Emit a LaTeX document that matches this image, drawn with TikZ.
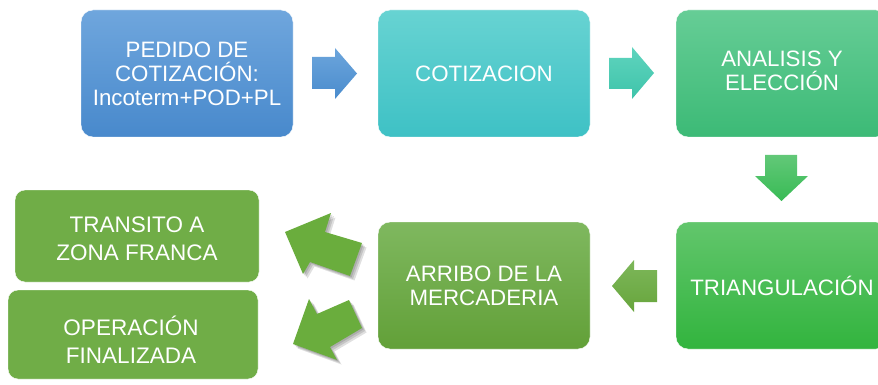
\documentclass[tikz,border=0pt]{standalone}
\usepackage{fontspec}
\setmainfont{Liberation Sans}
\definecolor{bAtop}{RGB}{111,166,221}\definecolor{bAbot}{RGB}{72,137,204}
\definecolor{bBtop}{RGB}{103,211,210}\definecolor{bBbot}{RGB}{62,193,197}
\definecolor{bCtop}{RGB}{102,205,150}\definecolor{bCbot}{RGB}{60,186,118}
\definecolor{bDtop}{RGB}{98,198,108}\definecolor{bDbot}{RGB}{50,180,62}
\definecolor{bEtop}{RGB}{127,184,95}\definecolor{bEbot}{RGB}{98,160,56}
\definecolor{gsix}{RGB}{112,173,71}
\definecolor{aAtop}{RGB}{108,165,220}\definecolor{aAbot}{RGB}{74,140,205}
\definecolor{aBtop}{RGB}{95,212,190}\definecolor{aBbot}{RGB}{63,196,170}
\definecolor{aCtop}{RGB}{98,200,120}\definecolor{aCbot}{RGB}{56,187,85}
\definecolor{aDtop}{RGB}{125,183,90}\definecolor{aDbot}{RGB}{103,165,60}
\definecolor{curv}{RGB}{106,173,61}
\begin{document}
\begin{tikzpicture}[x=1pt,y=-1pt,
  box/.style={rounded corners=12pt, text=white, align=center,
    font=\fontsize{22.3}{24}\selectfont, inner sep=0pt, draw=white, line width=0.4pt},
  bigbox/.style={box, minimum width=212pt, minimum height=127pt},
  smallbox/.style={box, fill=gsix, rounded corners=10pt},
  smalltext/.style={text=white, align=center, inner sep=0pt,
    font=\fontsize{22.5}{28}\selectfont},
  shad/.style={fill=black, opacity=0.12},
]
\clip (0,0) rectangle (878,385);
\fill[white] (0,0) rectangle (878,385);

% boxes
\node[bigbox, top color=bAtop, bottom color=bAbot] (pedido) at (187,73.5)
  {PEDIDO DE\\COTIZACIÓN:\\Incoterm+POD+PL};
\node[bigbox, top color=bBtop, bottom color=bBbot] (cotiz) at (484,73.5) {COTIZACION};
\node[bigbox, top color=bCtop, bottom color=bCbot] (analisis) at (782,73.5)
  {ANALISIS Y\\ELECCIÓN\vphantom{g}};
\node[bigbox, top color=bDtop, bottom color=bDbot] (triang) at (782,285.5) {TRIANGULACIÓN};
\node[bigbox, top color=bEtop, bottom color=bEbot] (arribo) at (484,285.5)
  {ARRIBO DE LA\\MERCADERIA};
\node[smallbox, minimum width=244pt, minimum height=92pt] (transito) at (137,236) {};
\node[smalltext] (transitotxt) at ([shift={(0,2.5)}]transito.center) {TRANSITO A\\ZONA FRANCA};
\node[smallbox, minimum width=250pt, minimum height=89pt] (operacion) at (133,334.5) {};
\node[smalltext] (operaciontxt) at ([shift={(-2,5)}]operacion.center) {OPERACIÓN\\FINALIZADA};

% block arrows
\shade[top color=aAtop, bottom color=aAbot]
  (312,57)--(335,57)--(335,48)--(357,73.5)--(335,99)--(335,89)--(312,89)--cycle;
\shade[top color=aBtop, bottom color=aBbot]
  (609,58)--(632,58)--(632,47)--(654,73)--(632,99)--(632,89)--(609,89)--cycle;
\shade[top color=aCtop, bottom color=aCbot]
  (765,155)--(797,155)--(797,176)--(808,176)--(781.5,201)--(755,176)--(765,176)--cycle;
\shade[top color=aDtop, bottom color=aDbot]
  (657,270)--(634,270)--(634,260)--(612,286)--(634,312)--(634,302)--(657,302)--cycle;

% angled arrows with soft shadow
\foreach \d in {1.5,3,4.5}{
  \fill[shad, shift={(\d,\d)}]
    (285,232)--(331,213)--(325,232)--(362,243)--(350,276)--(310,262)--(303,274)--cycle;
  \fill[shad, shift={(\d,\d)}]
    (293,344)--(309,299)--(317,314)--(349,300)--(362,328)--(330,347)--(337,360)--cycle;
}
\fill[curv]
  (285,232)--(331,213)--(325,232)--(362,243)--(350,276)--(310,262)--(303,274)--cycle;
\fill[curv]
  (293,344)--(309,299)--(317,314)--(349,300)--(362,328)--(330,347)--(337,360)--cycle;
\end{tikzpicture}
\end{document}
